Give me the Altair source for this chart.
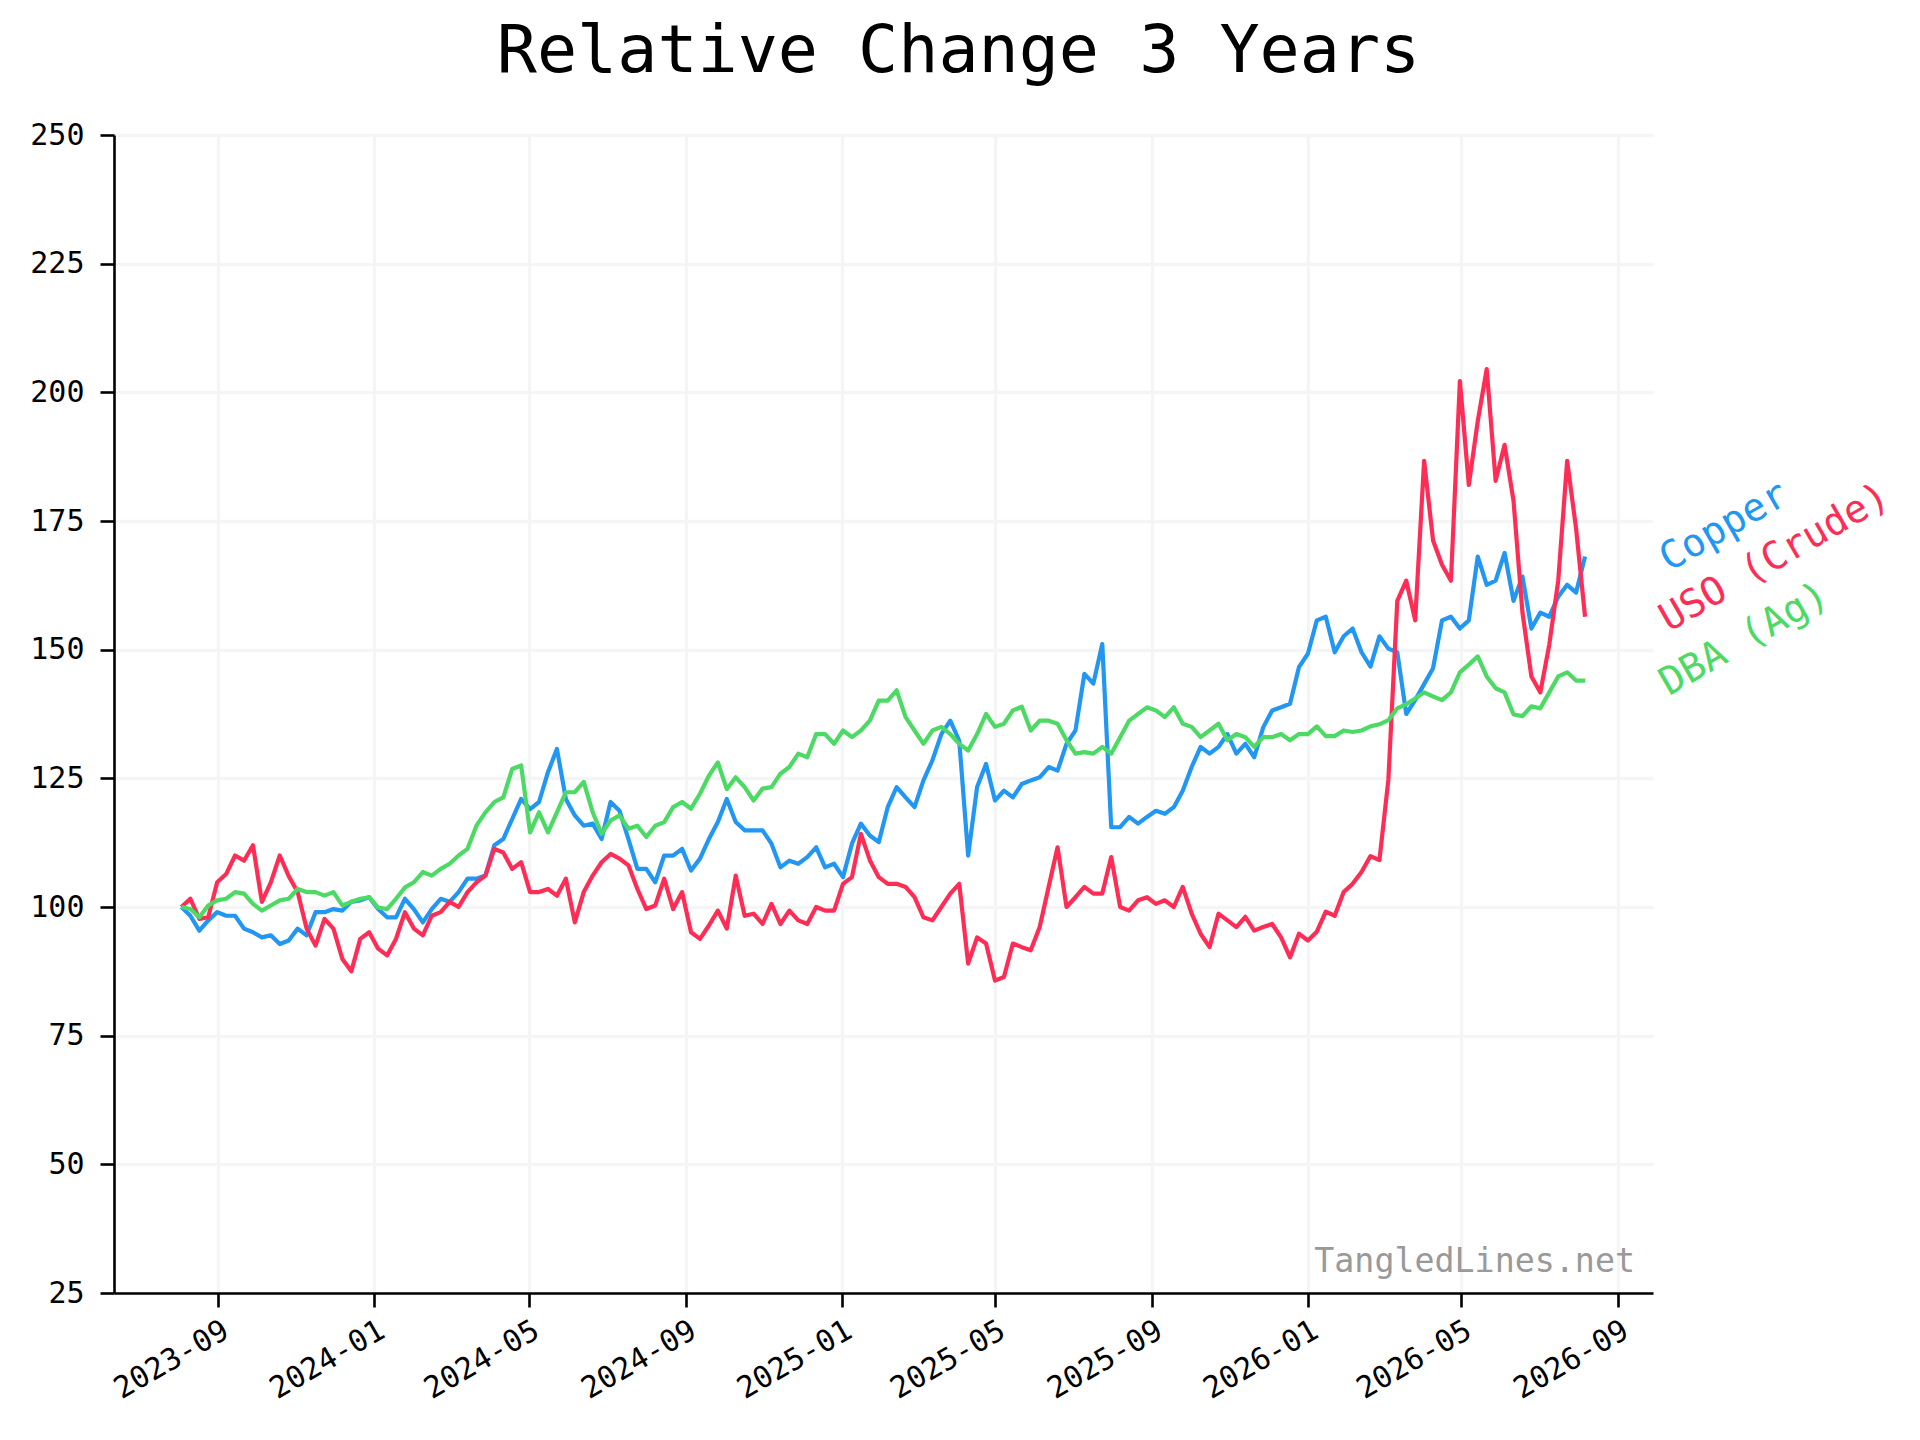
import altair as alt
import pandas as pd

# ---------------- data (weekly samples) ----------------
START_DATE = "2023-08-03"
N_WEEKS = 158

series_names = ["Copper", "USO (Crude)", "DBA (Ag)"]
series_colors = ["#2196F3", "#FF2D55", "#4CD964"]

copper = [
    100, 98.3, 95.4, 97.4, 99, 98.3, 98.3, 95.8,
    95.1, 94.1, 94.5, 92.8, 93.5, 95.8, 94.5, 99,
    99, 99.6, 99.3, 101, 101.3, 101.9, 99.6, 98,
    98, 101.6, 99.6, 97, 99.6, 101.6, 101, 102.9,
    105.5, 105.5, 106.1, 112, 113.2, 117.1, 121, 119,
    120.4, 126.2, 130.7, 121, 117.8, 115.8, 116.2, 113.2,
    120.4, 118.7, 113.2, 107.4, 107.4, 104.8, 110, 110,
    111.3, 107.1, 109.4, 113.2, 116.5, 121, 116.5, 114.9,
    114.9, 114.9, 112.3, 107.7, 109, 108.4, 109.7, 111.6,
    107.7, 108.4, 105.8, 112.3, 116.2, 113.9, 112.6, 119.4,
    123.3, 121.3, 119.4, 124.6, 128.5, 133.6, 136.2, 132.3,
    110, 123.3, 127.8, 120.7, 122.6, 121.3, 123.9, 124.6,
    125.2, 127.2, 126.5, 131.7, 134.3, 145.3, 143.4, 151.1,
    115.5, 115.5, 117.5, 116.2, 117.5, 118.7, 118.1, 119.4,
    122.6, 127.2, 131.1, 129.8, 131.1, 133.6, 129.8, 131.7,
    129.1, 134.9, 138.2, 138.8, 139.5, 146.6, 149.2, 155.7,
    156.4, 149.5, 152.6, 154.1, 149.5, 146.7, 152.6, 150.2,
    149.5, 137.5, 140.2, 143.3, 146.4, 155.7, 156.4, 154.1,
    155.7, 168.1, 162.6, 163.4, 168.8, 159.5, 164.2, 154.1,
    157.2, 156.4, 160.3, 162.6, 161.1, 168.1,
]

uso = [
    100, 101.6, 97.7, 98, 104.8, 106.4, 110, 109,
    112, 101, 104.8, 110, 106, 102.9, 95.8, 92.5,
    97.7, 95.8, 89.9, 87.5, 93.8, 95.1, 91.9, 90.6,
    93.8, 99, 95.8, 94.5, 98.3, 99, 101, 100,
    102.9, 104.8, 106.1, 111.3, 110.6, 107.4, 108.7, 102.9,
    102.9, 103.5, 102.2, 105.5, 97, 102.9, 106.1, 108.7,
    110.3, 109.4, 108.1, 103.5, 99.6, 100.3, 105.5, 99.6,
    102.9, 95.1, 93.8, 96.4, 99.3, 95.8, 106.1, 98.3,
    98.7, 96.7, 100.6, 96.7, 99.3, 97.4, 96.7, 100,
    99.3, 99.3, 104.5, 105.8, 114.2, 109.1, 105.8, 104.5,
    104.5, 103.9, 101.9, 98, 97.4, 100, 102.6, 104.5,
    89, 94.1, 92.9, 85.7, 86.4, 92.9, 92.2, 91.6,
    96.1, 103.9, 111.6, 100, 101.9, 103.9, 102.6, 102.6,
    109.7, 100, 99.3, 101.3, 101.9, 100.6, 101.3, 100,
    103.9, 98.7, 94.8, 92.2, 98.7, 97.4, 96.1, 98.1,
    95.4, 96.1, 96.7, 94.1, 90.2, 94.8, 93.5, 95.2,
    99.1, 98.3, 102.9, 104.5, 106.8, 109.9, 109.1, 124.7,
    159.5, 163.4, 155.7, 186.7, 171.2, 166.5, 163.4, 202.2,
    182, 194.4, 204.5, 182.8, 189.8, 178.9, 157.2, 144.8,
    141.7, 151, 163.4, 186.7, 173.5, 156.4,
]

dba = [
    100, 99.6, 98, 100.3, 101.3, 101.6, 102.9, 102.6,
    100.6, 99.3, 100.3, 101.3, 101.6, 103.5, 102.9, 102.9,
    102.2, 102.9, 100.3, 101, 101.6, 101.9, 99.9, 99.6,
    101.6, 103.8, 104.8, 106.8, 106.1, 107.4, 108.4, 110,
    111.3, 115.8, 118.4, 120.4, 121.3, 126.8, 127.5, 114.5,
    118.4, 114.5, 118.4, 122.3, 122.3, 124.3, 118.4, 114.2,
    116.8, 117.8, 115.2, 115.8, 113.6, 115.8, 116.5, 119.4,
    120.4, 119.1, 122, 125.5, 128.1, 122.9, 125.2, 123.3,
    120.7, 123, 123.3, 125.9, 127.2, 129.8, 129.1, 133.6,
    133.6, 131.7, 134.3, 133, 134.3, 136.2, 140.1, 140.1,
    142.1, 136.9, 134.3, 131.7, 134.3, 135, 133.6, 131.7,
    130.4, 133.6, 137.5, 135, 135.6, 138.2, 138.9, 134.3,
    136.2, 136.2, 135.6, 132.4, 129.8, 130.1, 129.8, 131.1,
    129.8, 133, 136.2, 137.5, 138.8, 138.2, 136.9, 138.8,
    135.6, 135, 133, 134.3, 135.6, 132.4, 133.6, 133,
    131.1, 133, 133, 133.6, 132.4, 133.6, 133.6, 135.1,
    133.2, 133.2, 134.3, 134, 134.3, 135.1, 135.5, 136.3,
    138.6, 139.4, 140.5, 141.7, 140.9, 140.2, 141.7, 145.6,
    147.1, 148.7, 144.8, 142.5, 141.7, 137.4, 137.1, 139,
    138.6, 141.7, 144.8, 145.6, 144, 144,
]

x_tick_months = [(2023, 9), (2024, 1), (2024, 5), (2024, 9), (2025, 1), (2025, 5),
                 (2025, 9), (2026, 1), (2026, 5), (2026, 9)]
y_ticks = [25, 50, 75, 100, 125, 150, 175, 200, 225, 250]
title_text = "Relative Change 3 Years"
watermark_text = "TangledLines.net"

# ---------------- build tables ----------------
dates = pd.date_range(START_DATE, periods=N_WEEKS, freq="7D")
rows = []
for name, vals in zip(series_names, [copper, uso, dba]):
    for d, v in zip(dates, vals):
        rows.append({"date": d, "value": v, "series": name})
df = pd.DataFrame(rows)

labels_df = pd.DataFrame({
    "series": series_names,
    "value": [copper[-1], uso[-1], dba[-1]],
})
wm_df = pd.DataFrame({"text": [watermark_text]})

FONT = "DejaVu Sans Mono"
W, H = 1539, 1158

x_scale = alt.Scale(domain=[alt.DateTime(year=2023, month=6, date=11, hours=5),
                            alt.DateTime(year=2026, month=9, date=28, hours=5)])
y_scale = alt.Scale(domain=[25, 250], nice=False, zero=False)
color_scale = alt.Scale(domain=series_names, range=series_colors)

x_axis = alt.Axis(
    values=[alt.DateTime(year=y, month=m, date=1) for y, m in x_tick_months],
    format="%Y-%m", labelAngle=330, labelAlign="right", labelBaseline="top",
    labelFont=FONT, labelFontSize=30, labelColor="black", labelPadding=8,
    labelOverlap=False, labelFlush=False,
    tickColor="black", tickSize=14, tickWidth=2.6,
    domainColor="black", domainWidth=2.6,
    grid=True, gridColor="#f5f5f5", gridWidth=3.3, title=None,
)
y_axis = alt.Axis(
    values=y_ticks, labelFont=FONT, labelFontSize=30, labelColor="black",
    labelPadding=16, tickColor="black", tickSize=14, tickWidth=2.6,
    domainColor="black", domainWidth=2.6,
    grid=True, gridColor="#f5f5f5", gridWidth=3.3, title=None,
)

lines = alt.Chart(df).mark_line(strokeWidth=4.2, strokeJoin="round").encode(
    x=alt.X("date:T", scale=x_scale, axis=x_axis),
    y=alt.Y("value:Q", scale=y_scale, axis=y_axis),
    color=alt.Color("series:N", scale=color_scale, legend=None),
    detail="series:N",
)

labels = alt.Chart(labels_df).mark_text(
    angle=330, align="left", baseline="alphabetic", dy=18,
    font=FONT, fontSize=38.9,
).encode(
    x=alt.value(W + 7),
    y=alt.Y("value:Q", scale=y_scale, axis=y_axis),
    text="series:N",
    color=alt.Color("series:N", scale=color_scale, legend=None),
)

watermark = alt.Chart(wm_df).mark_text(
    align="right", baseline="alphabetic", font=FONT, fontSize=33.3, color="#999999",
).encode(
    x=alt.value(W - 18),
    y=alt.value(H - 21),
    text="text:N",
)

chart = alt.layer(lines, labels, watermark).properties(
    width=W, height=H,
    title=alt.TitleParams(text=title_text, font=FONT, fontSize=66.7, fontWeight="normal",
                          color="black", anchor="middle", frame="group", dx=75, offset=34),
    autosize=alt.AutoSizeParams(type="none"),
    padding={"left": 106, "top": 127, "right": 250, "bottom": 130},
).configure(background="white").configure_view(strokeWidth=0, stroke="transparent")

chart.save("out.html", embed_options={"renderer": "svg", "actions": False})
